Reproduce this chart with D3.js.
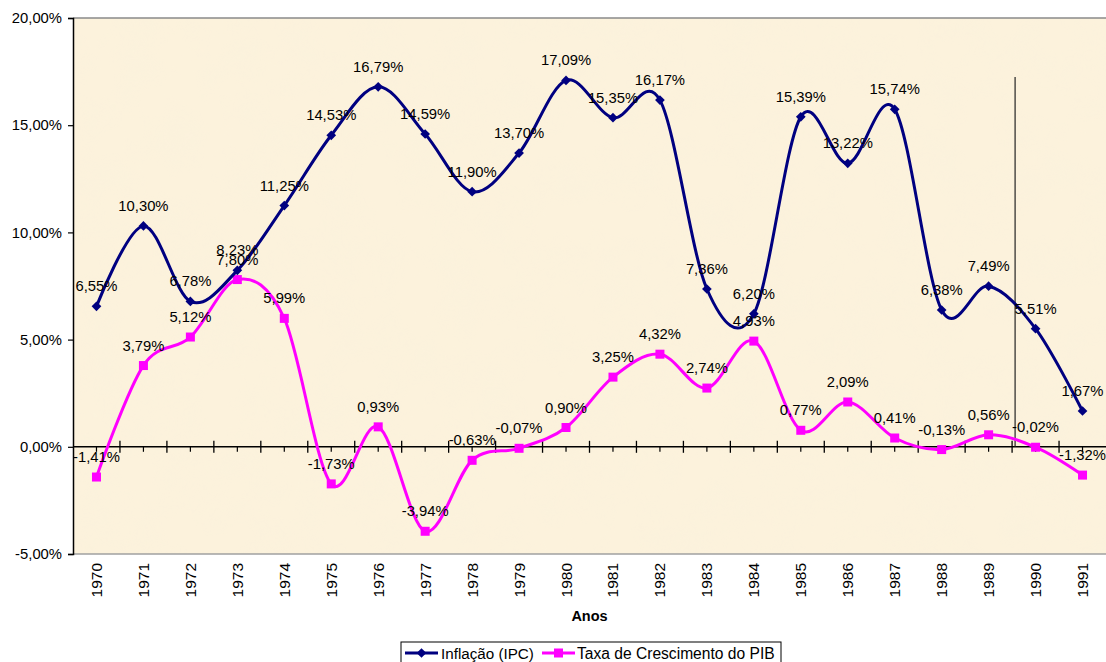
<!DOCTYPE html>
<html>
<head>
<meta charset="utf-8">
<script src="https://cdn.jsdelivr.net/npm/d3@7"></script>
<style>
  html, body { margin: 0; padding: 0; background: #fff; }
  svg { display: block; font-family: "Liberation Sans", Arial, sans-serif; }
</style>
</head>
<body>
<svg id="chart" width="1106" height="662"></svg>
<script>
const years = ["1970","1971","1972","1973","1974","1975","1976","1977","1978","1979","1980","1981","1982","1983","1984","1985","1986","1987","1988","1989","1990","1991"];
const inflacao = [6.55,10.30,6.78,8.23,11.25,14.53,16.79,14.59,11.90,13.70,17.09,15.35,16.17,7.36,6.20,15.39,13.22,15.74,6.38,7.49,5.51,1.67];
const pib = [-1.41,3.79,5.12,7.80,5.99,-1.73,0.93,-3.94,-0.63,-0.07,0.90,3.25,4.32,2.74,4.93,0.77,2.09,0.41,-0.13,0.56,-0.02,-1.32];
const yTicks = [-5,0,5,10,15,20];
const seriesNames = ["Inflação (IPC)", "Taxa de Crescimento do PIB"];
const xTitle = "Anos";

const svg = d3.select("#chart");
const L = 73, R = 1106, T = 18, B = 554;
const x = d3.scaleBand().domain(years).range([L, R]).padding(0);
const y = d3.scaleLinear().domain([-5, 20]).range([B, T]);
const cx = d => x(d) + x.bandwidth() / 2;
const fmt = v => v.toFixed(2).replace(".", ",") + "%";

// parchment background
const defs = svg.append("defs");
const f = defs.append("filter").attr("id", "parch").attr("x", 0).attr("y", 0).attr("width", "100%").attr("height", "100%");
f.append("feTurbulence").attr("type", "fractalNoise").attr("baseFrequency", "0.025").attr("numOctaves", 3).attr("seed", 4).attr("result", "n");
f.append("feColorMatrix").attr("in", "n").attr("type", "matrix")
  .attr("values", "0 0 0 0 0.95  0 0 0 0 0.88  0 0 0 0 0.72  1.4 0 0 0 -0.5").attr("result", "c");
f.append("feComposite").attr("in", "c").attr("in2", "SourceGraphic").attr("operator", "in");
svg.append("rect").attr("x", L).attr("y", T).attr("width", R - L).attr("height", B - T).attr("fill", "#FCF2DC");
svg.append("rect").attr("x", L).attr("y", T).attr("width", R - L).attr("height", B - T).attr("fill", "#FCF2DC")
  .attr("filter", "url(#parch)").attr("opacity", 0.45);

// border lines
svg.append("line").attr("x1", L).attr("x2", R).attr("y1", T).attr("y2", T).attr("stroke", "#8a8a8a").attr("stroke-width", 1.5);
svg.append("line").attr("x1", L).attr("x2", R).attr("y1", B).attr("y2", B).attr("stroke", "#a0a0a0").attr("stroke-width", 1.5);

// y axis
const yAxis = d3.axisLeft(y).tickValues(yTicks).tickSize(5).tickPadding(6)
  .tickFormat(v => v.toFixed(2).replace(".", ",") + "%");
const yg = svg.append("g").attr("transform", `translate(${L},0)`).call(yAxis);
yg.attr("font-family", null).attr("font-size", null);
yg.select(".domain").attr("stroke", "#000").attr("stroke-width", 1.5);
yg.selectAll(".tick line").attr("stroke", "#000").attr("stroke-width", 1.2);
yg.selectAll(".tick text").attr("font-size", "14.8px").attr("fill", "#000");

// zero axis line with ticks
const y0 = y(0);
svg.append("line").attr("x1", L).attr("x2", R).attr("y1", y0).attr("y2", y0).attr("stroke", "#000").attr("stroke-width", 1.5);
const bounds = years.slice(1).map(d => x(d));
svg.append("g").selectAll("line").data(bounds).join("line")
  .attr("x1", d => d).attr("x2", d => d).attr("y1", y0 - 6).attr("y2", y0 + 6)
  .attr("stroke", "#000").attr("stroke-width", 1.3);
svg.append("g").selectAll("line").data(years).join("line")
  .attr("x1", d => cx(d)).attr("x2", d => cx(d)).attr("y1", y0).attr("y2", y0 + 5)
  .attr("stroke", "#000").attr("stroke-width", 1.2);

// x tick labels (rotated)
svg.append("g").selectAll("text").data(years).join("text")
  .attr("transform", d => `translate(${cx(d) + 5.5},${B + 9}) rotate(-90)`)
  .attr("text-anchor", "end").attr("font-size", "15.5px").attr("fill", "#000").text(d => d);

// x title
svg.append("text").attr("x", (L + R) / 2).attr("y", 621).attr("text-anchor", "middle")
  .attr("font-size", "14.5px").attr("font-weight", "bold").text(xTitle);

// vertical line (drawn object)
svg.append("line").attr("x1", x("1990") + 3).attr("x2", x("1990") + 3).attr("y1", 77).attr("y2", y0)
  .attr("stroke", "#222").attr("stroke-width", 1.2);

const line = d3.line().x((d, i) => cx(years[i])).y(d => y(d)).curve(d3.curveCardinal.tension(0));

// PIB series
svg.append("path").datum(pib).attr("d", line).attr("fill", "none").attr("stroke", "#FF00FF").attr("stroke-width", 3);
svg.append("g").selectAll("rect").data(pib).join("rect")
  .attr("x", (d, i) => cx(years[i]) - 4.5).attr("y", d => y(d) - 4.5).attr("width", 9).attr("height", 9).attr("fill", "#FF00FF");

// Inflation series
svg.append("path").datum(inflacao).attr("d", line).attr("fill", "none").attr("stroke", "#000080").attr("stroke-width", 3);
const diamond = d3.symbol().type(d3.symbolDiamond2).size(60);
svg.append("g").selectAll("path").data(inflacao).join("path")
  .attr("transform", (d, i) => `translate(${cx(years[i])},${y(d)})`).attr("d", diamond).attr("fill", "#000080");

// data labels
function labels(data) {
  svg.append("g").selectAll("text").data(data).join("text")
    .attr("x", (d, i) => cx(years[i])).attr("y", d => y(d) - 15)
    .attr("text-anchor", "middle").attr("font-size", "14.8px").attr("fill", "#000").text(d => fmt(d));
}
labels(inflacao);
labels(pib);

// legend
const lg = svg.append("g");
lg.append("rect").attr("x", 401).attr("y", 642).attr("width", 380).attr("height", 30).attr("fill", "#fff").attr("stroke", "#000").attr("stroke-width", 1);
lg.append("line").attr("x1", 405).attr("x2", 438).attr("y1", 653).attr("y2", 653).attr("stroke", "#000080").attr("stroke-width", 3);
lg.append("path").attr("transform", "translate(421.5,653)").attr("d", diamond).attr("fill", "#000080");
lg.append("text").attr("x", 441).attr("y", 658.5).attr("font-size", "15.2px").text(seriesNames[0]);
lg.append("line").attr("x1", 542).attr("x2", 575).attr("y1", 653).attr("y2", 653).attr("stroke", "#FF00FF").attr("stroke-width", 3);
lg.append("rect").attr("x", 554).attr("y", 648.5).attr("width", 9).attr("height", 9).attr("fill", "#FF00FF");
lg.append("text").attr("x", 577).attr("y", 658.5).attr("font-size", "15.6px").text(seriesNames[1]);
</script>
</body>
</html>
